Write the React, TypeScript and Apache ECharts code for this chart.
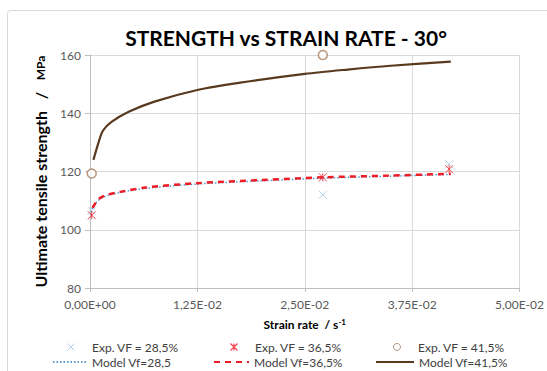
import React, { useEffect, useRef } from "react";
import * as echarts from "echarts";

const xTicks = [0, 0.0125, 0.025, 0.0375, 0.05];
const yTicks = [80, 100, 120, 140, 160];

const exp285X = [0.0002, 0.0271, 0.0418];
const exp285Y = [106.5, 112, 122.5];
const exp365X = [0.0002, 0.0271, 0.0418];
const exp365Y = [105, 118, 120.8];
const exp415X = [0.0002, 0.0271];
const exp415Y = [119.3, 160];

const model285X = [0.0001, 0.0003, 0.001, 0.002, 0.0035, 0.0065, 0.0125, 0.02, 0.0271, 0.035, 0.042];
const model285Y = [106, 107.5, 110.2, 111.7, 112.8, 114.2, 115.7, 116.8, 117.7, 118.4, 119];
const model365X = [0.0003, 0.001, 0.002, 0.0035, 0.0065, 0.0125, 0.02, 0.0271, 0.035, 0.042];
const model365Y = [107.5, 110.5, 112, 113, 114.5, 116, 117.1, 118, 118.6, 119.2];
const model415X = [0.0004, 0.001, 0.0015, 0.0025, 0.0045, 0.0075, 0.0125, 0.0175, 0.025, 0.03, 0.035, 0.042];
const model415Y = [124, 130, 134, 137, 140.5, 144, 148, 150.5, 153.5, 155, 156.3, 157.7];

const names = [
  "Exp. VF = 28,5%",
  "Exp. VF = 36,5%",
  "Exp. VF = 41,5%",
  "Model Vf=28,5",
  "Model Vf=36,5%",
  "Model Vf=41,5%",
];

const zip = (xs: number[], ys: number[]) => xs.map((x, i) => [x, ys[i]]);

const X_PATH = "path://M0,0L10,10M10,0L0,10";
const STAR_PATH = "path://M0,0L10,10M10,0L0,10M5,0L5,10";

const FONT = "Lato";

const BLUE_X = "#9dc3e6";
const RED = "#ee1c25";
const CIRCLE = "#a57b5a";

function fmt(v: number) {
  const s = v.toExponential(2);
  const [m, e] = s.split("e");
  const sign = e[0] === "-" ? "-" : "+";
  const num = Math.abs(parseInt(e, 10));
  return m.replace(".", ",") + "E" + sign + (num < 10 ? "0" + num : String(num));
}

function legend(name: string, left: number, top: number, iconW: number, textPad: number, markerStyle?: any) {
  const isLine = !name.startsWith("Exp");
  return {
    data: [isLine ? { name, itemStyle: { opacity: 0 } } : { name, itemStyle: markerStyle }],
    left,
    top,
    itemWidth: iconW,
    itemHeight: isLine ? 10 : 7,
    itemGap: 0,
    padding: 0,
    selectedMode: false,
    textStyle: {
      fontFamily: FONT,
      fontSize: 12,
      color: "#404040",
      padding: [0, 0, 0, textPad],
    },
  };
}

export default function App() {
  const ref = useRef<HTMLDivElement>(null);
  useEffect(() => {
    if (!ref.current) return;
    const chart = echarts.init(ref.current, undefined, { renderer: "svg" });
    chart.setOption({
      animation: false,
      backgroundColor: "#ffffff",
      title: {
        text: "STRENGTH vs STRAIN RATE - 30°",
        left: 281,
        top: 22,
        textAlign: "center",
        textStyle: { fontFamily: FONT, fontSize: 21, fontWeight: "bold", color: "#000000" },
      },
      graphic: [
        {
          type: "rect",
          shape: { x: 7.5, y: 10.5, width: 560, height: 400, r: 3 },
          style: { fill: "none", stroke: "#d9d9d9", lineWidth: 1 },
          silent: true,
        },
      ],
      grid: { left: 90, right: 19, top: 55, bottom: 83, containLabel: false },
      xAxis: {
        type: "value",
        min: xTicks[0],
        max: xTicks[xTicks.length - 1],
        interval: xTicks[1] - xTicks[0],
        name: "{a|Strain rate  / s}{b|-1}",
        nameLocation: "middle",
        nameGap: 30,
        nameTextStyle: {
          rich: {
            a: { fontFamily: FONT, fontSize: 12, fontWeight: "bold", color: "#000" },
            b: { fontFamily: FONT, fontSize: 8, fontWeight: "bold", color: "#000", verticalAlign: "top", padding: [0, 0, 5, 0] },
          },
        },
        axisLine: { show: true, lineStyle: { color: "#bfbfbf" } },
        axisTick: { show: true, length: 4, lineStyle: { color: "#bfbfbf" } },
        splitLine: { show: true, lineStyle: { color: "#d9d9d9" } },
        axisLabel: {
          formatter: (v: number) => fmt(v),
          fontFamily: FONT,
          fontSize: 12,
          color: "#595959",
          margin: 10,
        },
      },
      yAxis: {
        type: "value",
        min: yTicks[0],
        max: yTicks[yTicks.length - 1],
        interval: yTicks[1] - yTicks[0],
        name: "{a|Ultimate tensile strength   /   }{b|MPa}",
        nameLocation: "middle",
        nameGap: 42,
        nameRotate: 90,
        nameTextStyle: {
          rich: {
            a: { fontFamily: FONT, fontSize: 16, fontWeight: "bold", color: "#000" },
            b: { fontFamily: FONT, fontSize: 12, fontWeight: "bold", color: "#000" },
          },
        },
        axisLine: { show: true, lineStyle: { color: "#bfbfbf" } },
        axisTick: { show: true, length: 5, lineStyle: { color: "#bfbfbf" } },
        splitLine: { show: true, lineStyle: { color: "#d9d9d9" } },
        axisLabel: { fontFamily: FONT, fontSize: 12, color: "#595959", margin: 9 },
      },
      legend: [
        legend(names[0], 65, 341, 8, 12, { color: "none", borderColor: BLUE_X, borderWidth: 1 }),
        legend(names[1], 228, 341, 8, 12, { color: "none", borderColor: RED, borderWidth: 1.2 }),
        legend(names[2], 393, 341, 8, 12, { color: "#ffffff", borderColor: CIRCLE, borderWidth: 1 }),
        legend(names[3], 52, 356, 33, 1),
        legend(names[4], 213, 356, 35, 0),
        legend(names[5], 375, 356, 38, 0),
      ],
      series: [
        {
          name: names[3],
          type: "line",
          data: zip(model285X, model285Y),
          symbol: "none",
          smooth: 0.3,
          lineStyle: { color: "#5b9bd5", width: 1.5, type: [1.5, 2] },
          itemStyle: { color: "#5b9bd5" },
          z: 2,
        },
        {
          name: names[4],
          type: "line",
          data: zip(model365X, model365Y),
          symbol: "none",
          smooth: 0.3,
          lineStyle: { color: RED, width: 2.5, type: [6, 5] },
          itemStyle: { color: RED },
          z: 3,
        },
        {
          name: names[5],
          type: "line",
          data: zip(model415X, model415Y),
          symbol: "none",
          smooth: 0.3,
          lineStyle: { color: "#5a3a1e", width: 2.2 },
          itemStyle: { color: "#5a3a1e" },
          z: 3,
        },
        {
          name: names[0],
          type: "scatter",
          data: zip(exp285X, exp285Y),
          symbol: X_PATH,
          symbolSize: 8,
          itemStyle: { color: "none", borderColor: BLUE_X, borderWidth: 1 },
          z: 5,
        },
        {
          name: names[1],
          type: "scatter",
          data: zip(exp365X, exp365Y),
          symbol: STAR_PATH,
          symbolSize: 8,
          itemStyle: { color: "none", borderColor: RED, borderWidth: 1 },
          z: 5,
        },
        {
          name: names[2],
          type: "scatter",
          data: zip(exp415X, exp415Y),
          symbol: "circle",
          symbolSize: 9,
          itemStyle: { color: "#ffffff", borderColor: CIRCLE, borderWidth: 1.5 },
          z: 5,
        },
      ],
    });
    return () => chart.dispose();
  }, []);
  return (
    <div
      ref={ref}
      style={{ position: "absolute", left: 0, top: 0, width: 547, height: 371 }}
    />
  );
}
